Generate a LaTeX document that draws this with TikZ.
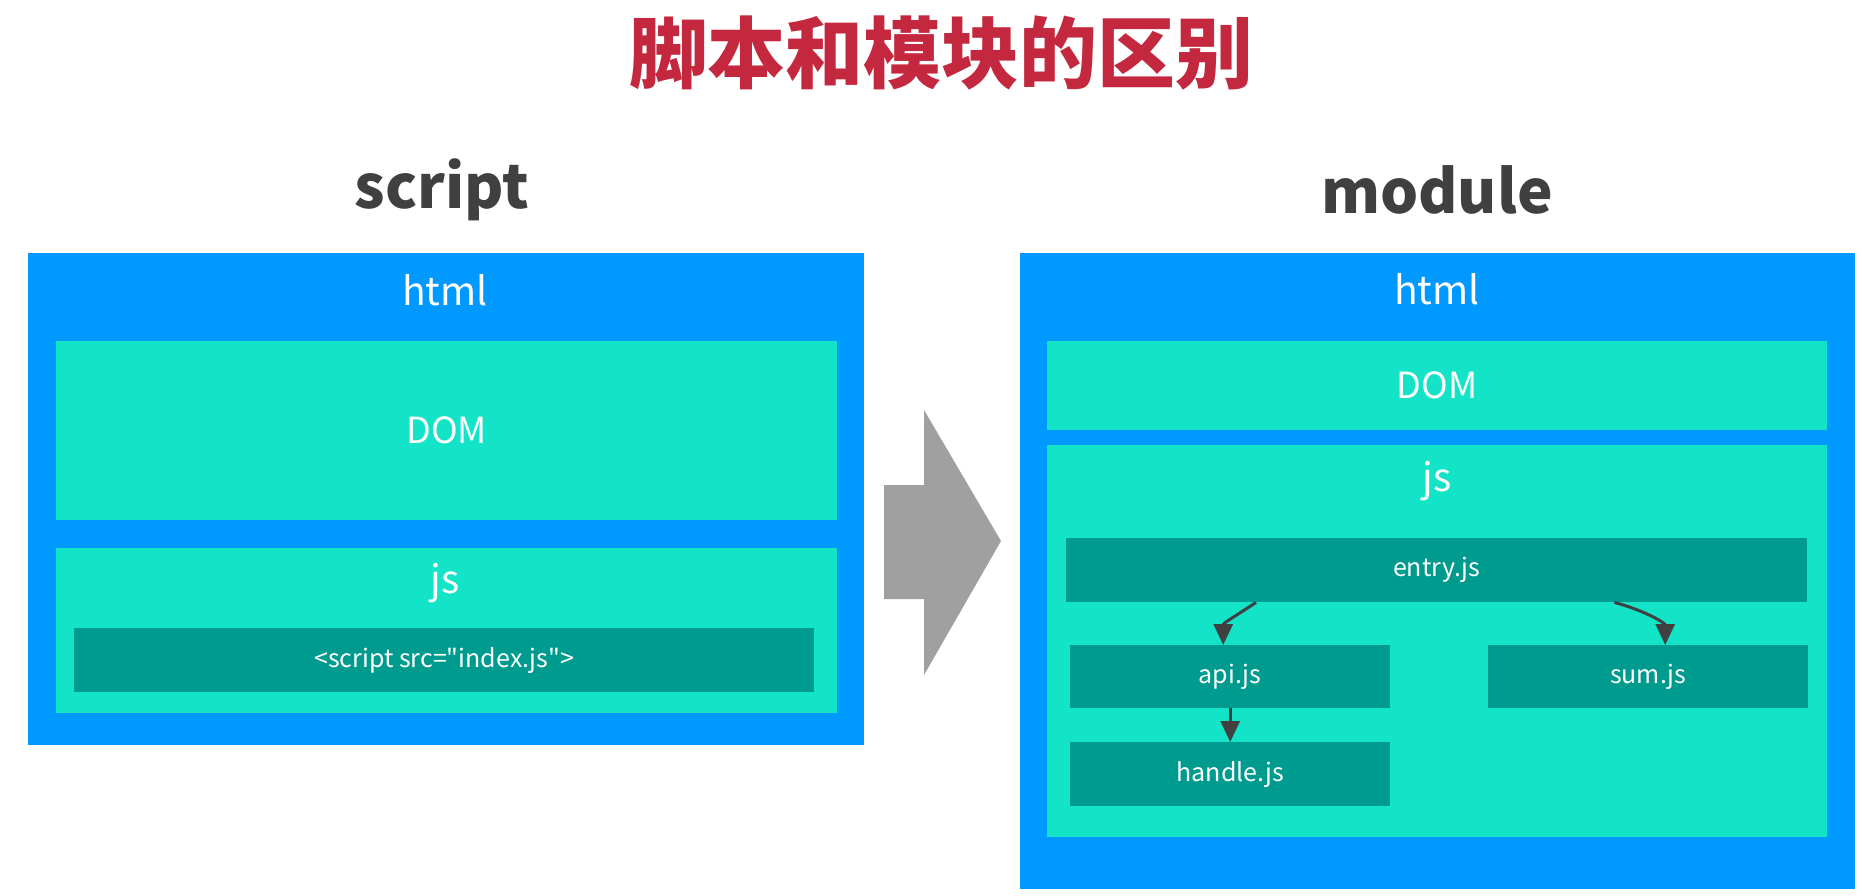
\documentclass[tikz,border=0pt]{standalone}
\usepackage{fontspec}
\setmainfont{Noto Sans CJK SC}
\newfontfamily\plainfont{Noto Sans CJK SC}
\usetikzlibrary{arrows.meta,calc}
\definecolor{htmlblue}{HTML}{0099FF}
\definecolor{lteal}{HTML}{13E4C8}
\definecolor{dteal}{HTML}{009B8F}
\definecolor{titlered}{HTML}{C4283E}
\definecolor{headgray}{HTML}{404040}
\definecolor{arrgray}{HTML}{A0A0A0}
\tikzset{
  blk/.style={draw=none, inner sep=0pt, anchor=north west},
  outerbox/.style={blk, fill=htmlblue},
  midbox/.style={blk, fill=lteal},
  innerbox/.style={blk, fill=dteal},
  lbl/.style={text=white, inner sep=0pt, font=\plainfont\fontsize{#1}{#1}\selectfont},
  head/.style={text=headgray, inner sep=0pt, font=\fontsize{60}{60}\selectfont\bfseries},
  dep/.style={draw=headgray, line width=3pt, -{Triangle[length=21pt,width=19pt]}}
}
\begin{document}
\begin{tikzpicture}[x=1pt,y=-1pt]
\useasboundingbox (0,0) rectangle (1862,896);
\fill[white] (0,0) rectangle (1862,896);
% title
\node[text=titlered, inner sep=0pt, font=\fontsize{78}{78}\selectfont\bfseries] (title) at (941,53) {脚本和模块的区别};
\node[head] (hscript) at (442,190) {script};
\node[head] (hmodule) at (1437,190) {module};
% left side
\node[outerbox, minimum width=836pt, minimum height=492pt] (lhtml) at (28,253) {};
\node[lbl=39] (lhtmlt) at (445,290) {html};
\node[midbox, minimum width=781pt, minimum height=179pt] (ldom) at (56,341) {};
\node[lbl=36] (ldomt) at (ldom.center) {DOM};
\node[midbox, minimum width=781pt, minimum height=165pt] (ljs) at (56,548) {};
\node[lbl=39] (ljst) at (445,583) {js};
\node[innerbox, minimum width=740pt, minimum height=64pt] (lscript) at (74,628) {};
\node[lbl=25] (lscriptt) at (lscript.center) {<script src="index.js">};
% gray arrow
\fill[arrgray] (884,485) -- (924,485) -- (924,410) -- (1001,541) -- (924,675) -- (924,599) -- (884,599) -- cycle;
% right side
\node[outerbox, minimum width=835pt, minimum height=636pt] (rhtml) at (1020,253) {};
\node[lbl=39] (rhtmlt) at (1437,289) {html};
\node[midbox, minimum width=780pt, minimum height=89pt] (rdom) at (1047,341) {};
\node[lbl=36] (rdomt) at (rdom.center) {DOM};
\node[midbox, minimum width=780pt, minimum height=392pt] (rjs) at (1047,445) {};
\node[lbl=39] (rjst) at (1437,481) {js};
\node[innerbox, minimum width=741pt, minimum height=64pt] (entry) at (1066,538) {};
\node[lbl=25] (entryt) at (entry.center) {entry.js};
\node[innerbox, minimum width=320pt, minimum height=63pt] (api) at (1070,645) {};
\node[lbl=25] (apit) at (api.center) {api.js};
\node[innerbox, minimum width=320pt, minimum height=63pt] (sum) at (1488,645) {};
\node[lbl=25] (sumt) at (sum.center) {sum.js};
\node[innerbox, minimum width=320pt, minimum height=64pt] (handle) at (1070,742) {};
\node[lbl=25] (handlet) at (handle.center) {handle.js};
% dependencies
\draw[dep] ([xshift=190pt]entry.south west) .. controls +(-24,16) and +(0,-22) .. ([xshift=-7pt]api.north);
\draw[dep] ([xshift=-193pt]entry.south east) .. controls +(30,8) and +(0,-22) .. ([xshift=17pt]sum.north);
\draw[dep] (api.south) -- (handle.north);
\end{tikzpicture}
\end{document}
